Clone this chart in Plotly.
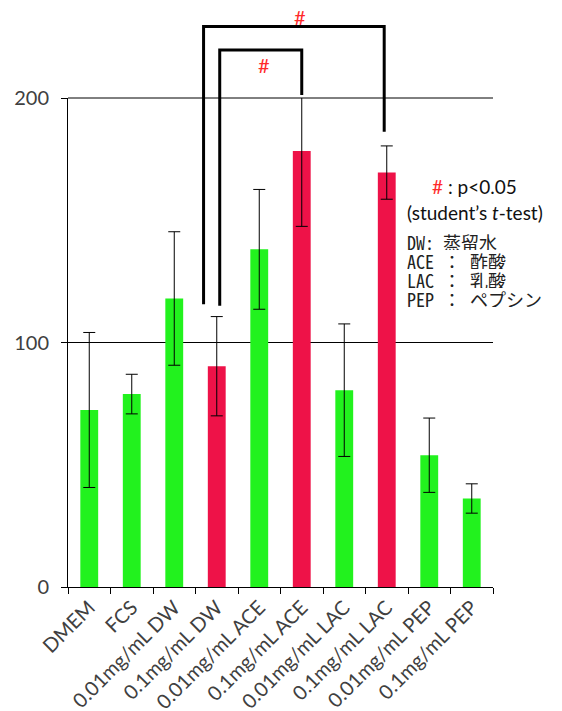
import plotly.graph_objects as go

# Group labels, means and error magnitudes
categories = [
    "DMEM", "FCS",
    "0.01mg/mL DW", "0.1mg/mL DW",
    "0.01mg/mL ACE", "0.1mg/mL ACE",
    "0.01mg/mL LAC", "0.1mg/mL LAC",
    "0.01mg/mL PEP", "0.1mg/mL PEP",
]
means = [72.4, 78.9, 118.0, 90.3, 138.1, 178.3, 80.5, 169.5, 53.9, 36.2]
errors = [31.7, 8.1, 27.3, 20.3, 24.5, 30.8, 27.1, 10.9, 15.2, 6.0]
significant = [False, False, False, True, False, True, False, True, False, False]

y_ticks = [0, 100, 200]

# pairs compared (index of reference group, index of compared group)
comparisons = [(3, 5), (3, 7)]

legend_lines = ["DW: 蒸留水", "ACE ： 酢酸", "LAC ： 乳酸", "PEP ： ペプシン"]

GREEN = "#22F21E"
RED = "#EE1248"
HASH_RED = "#FF2A2A"
LATIN = "Lato, Carlito, 'Liberation Sans', sans-serif"
GOTHIC = "'Noto Sans Mono CJK JP', 'Noto Sans CJK JP', sans-serif"

bar_colors = [RED if s else GREEN for s in significant]

fig = go.Figure(
    go.Bar(
        x=categories,
        y=means,
        width=0.42,
        marker=dict(color=bar_colors, line=dict(width=0)),
        error_y=dict(type="data", array=errors, color="black",
                     thickness=1, width=6),
        showlegend=False,
    )
)

# bracket geometry (x in category units, y in paper units)
bracket_geom = [
    # inner bracket
    dict(xl=3.07, xr=5.0, yl=0.575, yr=1.006, top=1.098, lx=4.10, ly=1.067),
    # outer bracket
    dict(xl=2.69, xr=6.94, yl=0.578, yr=0.931, top=1.146, lx=4.97, ly=1.166),
]

# top gridline sits on the range edge, draw it explicitly
shapes = [dict(type="line", xref="paper", yref="paper", x0=0, x1=1, y0=1, y1=1,
               line=dict(color="black", width=1))]
annotations = []
for (a, b), g in zip(comparisons, bracket_geom):
    shapes.append(dict(
        type="path", xref="x", yref="paper",
        path=f"M {g['xl']},{g['yl']} L {g['xl']},{g['top']} "
             f"L {g['xr']},{g['top']} L {g['xr']},{g['yr']}",
        line=dict(color="black", width=3),
    ))
    annotations.append(dict(
        x=g["lx"], y=g["ly"], xref="x", yref="paper", text="#",
        xanchor="center", yanchor="middle",
        showarrow=False, font=dict(family=LATIN, size=20, color=HASH_RED),
    ))

# significance key
annotations.append(dict(
    x=0.956, y=0.818, xref="paper", yref="paper", showarrow=False,
    xanchor="center", yanchor="middle",
    text=f"<span style='color:{HASH_RED}'>#</span> : p<0.05",
    font=dict(family=LATIN, size=19, color="#111111"),
))
annotations.append(dict(
    x=0.958, y=0.765, xref="paper", yref="paper", showarrow=False,
    xanchor="center", yanchor="middle",
    text="(student’s <i>t</i>-test)",
    font=dict(family=LATIN, size=19, color="#111111"),
))
for i, line in enumerate(legend_lines):
    annotations.append(dict(
        x=0.795, y=0.706 - i * 0.0389, xref="paper", yref="paper",
        xanchor="left", yanchor="middle", showarrow=False, text=line,
        height=17, valign="middle", borderpad=0,
        font=dict(family=GOTHIC, size=18, color="#222222"),
    ))

# fragment of the running text above the chart
annotations.append(dict(
    x=-0.15, y=1.19, xref="paper", yref="paper", xanchor="left",
    yanchor="bottom", showarrow=False, text="と考えている。",
    font=dict(family="'Noto Sans CJK JP', sans-serif", size=22, color="#333333"),
))

fig.update_layout(
    width=562, height=711,
    margin=dict(l=68, r=69, t=98, b=124, autoexpand=False),
    plot_bgcolor="white", paper_bgcolor="white",
    shapes=shapes, annotations=annotations,
    xaxis=dict(
        type="category", tickson="boundaries", ticks="outside", ticklen=6,
        tickcolor="black", showline=True, linecolor="black", linewidth=1,
        tickangle=-45, showgrid=False,
        tickfont=dict(family=LATIN, size=20, color="#404040"),
    ),
    yaxis=dict(
        range=[0, 200], tickvals=y_ticks, ticks="outside", ticklen=6,
        tickcolor="black", showline=True, linecolor="black", linewidth=1,
        showgrid=True, gridcolor="black", gridwidth=1, zeroline=False,
        ticklabelstandoff=8,
        tickfont=dict(family=LATIN, size=20, color="#404040"),
    ),
)

fig.write_html("out.html")
